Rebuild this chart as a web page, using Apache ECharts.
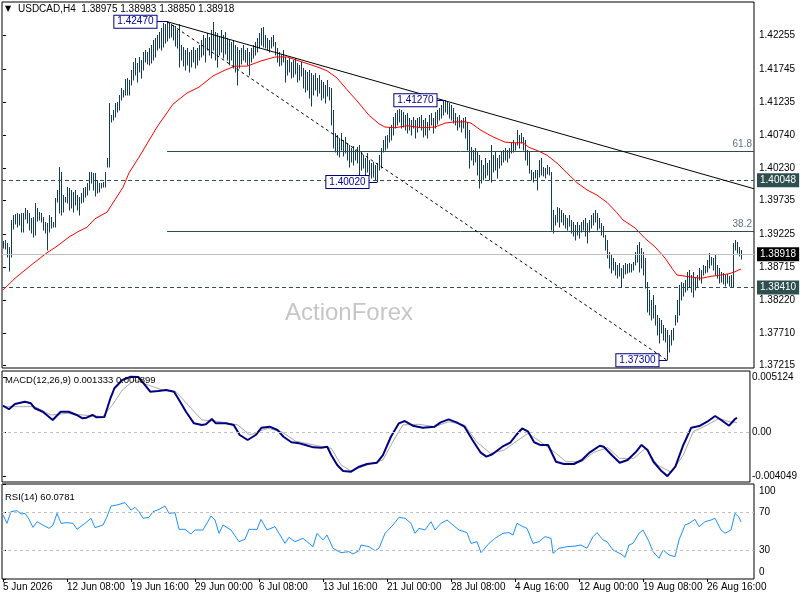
<!DOCTYPE html>
<html><head><meta charset="utf-8">
<script src="https://cdn.jsdelivr.net/npm/echarts@6/dist/echarts.min.js"></script>
<style>html,body{margin:0;padding:0;background:#fff}#c{width:800px;height:600px}</style>
</head><body><div id="c"></div>
<script>
// ---- OHLC bars (high / low per H4 bar) ----
const highs = [
1.3912,1.3913,1.3909,1.3903,1.3944,1.3952,1.3953,1.3955,1.3953,1.3955,1.3955,1.3962,1.3959,1.3955,1.3947,1.3949,
1.3970,1.3962,1.3956,1.3955,1.3949,1.3941,1.3939,1.3952,1.3949,1.3941,1.3978,1.3990,1.4025,1.4017,1.3982,1.3979,
1.3994,1.3993,1.3990,1.3987,1.3990,1.3982,1.3979,1.3985,1.3993,1.3994,1.4000,1.4017,1.4017,1.4016,1.4016,1.4005,
1.4000,1.4000,1.4002,1.4017,1.4039,1.4123,1.4104,1.4112,1.4123,1.4124,1.4135,1.4146,1.4143,1.4159,1.4161,1.4158,
1.4173,1.4185,1.4191,1.4184,1.4193,1.4188,1.4201,1.4204,1.4201,1.4207,1.4211,1.4219,1.4222,1.4227,1.4231,1.4237,
1.4245,1.4243,1.4247,1.4245,1.4243,1.4242,1.4240,1.4234,1.4243,1.4211,1.4208,1.4204,1.4207,1.4201,1.4204,1.4208,
1.4204,1.4207,1.4211,1.4219,1.4227,1.4222,1.4230,1.4224,1.4234,1.4246,1.4231,1.4230,1.4225,1.4234,1.4227,1.4231,
1.4222,1.4219,1.4216,1.4219,1.4211,1.4208,1.4204,1.4207,1.4211,1.4204,1.4207,1.4201,1.4207,1.4211,1.4216,1.4222,
1.4230,1.4237,1.4239,1.4227,1.4222,1.4219,1.4224,1.4227,1.4216,1.4207,1.4201,1.4196,1.4204,1.4193,1.4188,1.4191,
1.4185,1.4188,1.4191,1.4184,1.4181,1.4185,1.4176,1.4173,1.4170,1.4173,1.4169,1.4166,1.4169,1.4161,1.4166,1.4158,
1.4155,1.4150,1.4158,1.4147,1.4146,1.4112,1.4077,1.4074,1.4069,1.4077,1.4066,1.4071,1.4062,1.4059,1.4054,1.4057,
1.4051,1.4055,1.4059,1.4048,1.4043,1.4039,1.4046,1.4036,1.4031,1.4033,1.4028,1.4031,1.4043,1.4054,1.4066,1.4072,
1.4074,1.4086,1.4089,1.4101,1.4107,1.4112,1.4114,1.4112,1.4109,1.4104,1.4107,1.4100,1.4097,1.4101,1.4097,1.4100,
1.4101,1.4104,1.4097,1.4100,1.4094,1.4104,1.4107,1.4100,1.4109,1.4112,1.4115,1.4120,1.4127,1.4127,1.4124,1.4123,
1.4120,1.4115,1.4107,1.4101,1.4104,1.4097,1.4100,1.4101,1.4094,1.4081,1.4055,1.4051,1.4054,1.4048,1.4043,1.4036,
1.4028,1.4039,1.4031,1.4036,1.4059,1.4043,1.4048,1.4039,1.4043,1.4048,1.4051,1.4054,1.4051,1.4054,1.4063,1.4066,
1.4062,1.4081,1.4074,1.4077,1.4071,1.4066,1.4051,1.4048,1.4020,1.4017,1.4020,1.4020,1.4036,1.4039,1.4025,1.4023,
1.4028,1.4025,1.4017,1.3959,1.3952,1.3964,1.3962,1.3959,1.3955,1.3952,1.3947,1.3952,1.3944,1.3941,1.3936,1.3941,
1.3936,1.3941,1.3944,1.3947,1.3939,1.3944,1.3952,1.3955,1.3959,1.3955,1.3947,1.3939,1.3935,1.3921,1.3913,1.3895,
1.3891,1.3886,1.3880,1.3875,1.3878,1.3871,1.3875,1.3878,1.3877,1.3878,1.3877,1.3880,1.3895,1.3906,1.3910,1.3901,
1.3895,1.3886,1.3849,1.3837,1.3822,1.3829,1.3814,1.3799,1.3794,1.3791,1.3784,1.3779,1.3776,1.3768,1.3776,1.3779,
1.3799,1.3822,1.3845,1.3849,1.3848,1.3852,1.3865,1.3868,1.3860,1.3865,1.3857,1.3860,1.3871,1.3868,1.3875,1.3874,
1.3883,1.3894,1.3887,1.3886,1.3891,1.3875,1.3871,1.3865,1.3863,1.3860,1.3862,1.3858,1.3860,1.3909,1.3913,1.3910,
1.3903,1.38983];
const lows = [
1.3901,1.3900,1.3887,1.3866,1.3887,1.3930,1.3938,1.3933,1.3936,1.3926,1.3926,1.3946,1.3939,1.3929,1.3924,1.3918,
1.3921,1.3942,1.3944,1.3941,1.3929,1.3924,1.3898,1.3926,1.3932,1.3933,1.3933,1.3971,1.3955,1.3952,1.3956,1.3971,
1.3970,1.3959,1.3962,1.3956,1.3967,1.3959,1.3952,1.3970,1.3971,1.3979,1.3982,1.3990,1.4000,1.3990,1.3981,1.3985,
1.3987,1.3993,1.3994,1.3994,1.4025,1.4025,1.4094,1.4097,1.4101,1.4109,1.4112,1.4127,1.4132,1.4135,1.4135,1.4135,
1.4150,1.4158,1.4166,1.4155,1.4170,1.4161,1.4173,1.4185,1.4182,1.4181,1.4184,1.4188,1.4193,1.4204,1.4207,1.4204,
1.4208,1.4214,1.4217,1.4222,1.4224,1.4219,1.4210,1.4207,1.4178,1.4188,1.4179,1.4173,1.4181,1.4170,1.4178,1.4185,
1.4176,1.4181,1.4188,1.4193,1.4196,1.4185,1.4204,1.4196,1.4191,1.4204,1.4188,1.4178,1.4196,1.4201,1.4191,1.4198,
1.4188,1.4181,1.4188,1.4176,1.4170,1.4150,1.4176,1.4182,1.4188,1.4185,1.4181,1.4166,1.4185,1.4191,1.4196,1.4201,
1.4207,1.4211,1.4208,1.4207,1.4204,1.4201,1.4207,1.4210,1.4196,1.4185,1.4179,1.4181,1.4185,1.4155,1.4166,1.4170,
1.4161,1.4162,1.4167,1.4155,1.4158,1.4164,1.4146,1.4139,1.4143,1.4130,1.4118,1.4135,1.4143,1.4133,1.4138,1.4127,
1.4130,1.4123,1.4133,1.4127,1.4089,1.4054,1.4048,1.4043,1.4040,1.4051,1.4042,1.4046,1.4036,1.4025,1.4033,1.4028,
1.4036,1.4031,1.4013,1.4020,1.4023,1.4013,1.4017,1.4013,1.4008,1.4010,1.4005,1.4002,1.4020,1.4023,1.4048,1.4051,
1.4054,1.4063,1.4066,1.4074,1.4085,1.4089,1.4094,1.4085,1.4086,1.4081,1.4077,1.4081,1.4074,1.4085,1.4069,1.4078,
1.4086,1.4081,1.4071,1.4074,1.4069,1.4081,1.4089,1.4077,1.4085,1.4091,1.4097,1.4100,1.4104,1.4109,1.4106,1.4100,
1.4097,1.4092,1.4089,1.4081,1.4086,1.4078,1.4085,1.4069,1.4051,1.4023,1.4036,1.4028,1.4033,1.4013,1.3993,1.4000,
1.4005,1.4008,1.4013,1.4005,1.4002,1.4017,1.4020,1.4008,1.4023,1.4028,1.4033,1.4036,1.4033,1.4039,1.4046,1.4048,
1.4051,1.4059,1.4054,1.4062,1.4051,1.4036,1.4028,1.4016,1.4005,1.4002,1.4008,1.3990,1.4010,1.4013,1.4011,1.4008,
1.4014,1.4013,1.3929,1.3924,1.3936,1.3941,1.3933,1.3941,1.3936,1.3932,1.3929,1.3935,1.3924,1.3920,1.3913,1.3921,
1.3917,1.3926,1.3929,1.3920,1.3909,1.3926,1.3932,1.3936,1.3941,1.3929,1.3932,1.3921,1.3918,1.3898,1.3886,1.3871,
1.3863,1.3868,1.3860,1.3855,1.3858,1.3842,1.3855,1.3862,1.3863,1.3865,1.3865,1.3868,1.3875,1.3880,1.3865,1.3871,
1.3860,1.3840,1.3803,1.3799,1.3791,1.3794,1.3784,1.3768,1.3756,1.3771,1.3761,1.3758,1.3730,1.3742,1.3753,1.3761,
1.3784,1.3788,1.3799,1.3822,1.3828,1.3834,1.3837,1.3842,1.3834,1.3826,1.3837,1.3842,1.3852,1.3848,1.3860,1.3863,
1.3865,1.3871,1.3875,1.3868,1.3860,1.3855,1.3848,1.3849,1.3846,1.3843,1.3848,1.3843,1.3842,1.3841,1.3898,1.3894,
1.3889,1.38850];
const lastBar = {open:1.38975, high:1.38983, low:1.38850, close:1.38918};

// ---- moving average (red), [bar index, price] ----
const maLine = [[0,1.3837],[6,1.3855],[14,1.3875],[22,1.3894],[27,1.3904],[33,1.3918],[38,1.3927],[42,1.3933],[46,1.3946],
[52,1.3956],[56,1.3975],[60,1.3994],[63,1.4016],[68,1.4040],[77,1.4086],[85,1.4121],[92,1.4138],[98,1.4147],[105,1.4164],
[111,1.4173],[116,1.4179],[122,1.4179],[129,1.4187],[136,1.4193],[142,1.4193],[148,1.4187],[157,1.4178],[162,1.4172],
[167,1.4161],[172,1.4143],[177,1.4126],[183,1.4104],[188,1.4091],[191,1.4086],[196,1.4085],[202,1.4088],[209,1.4085],
[216,1.4086],[221,1.4092],[226,1.4094],[231,1.4094],[234,1.4092],[239,1.4081],[245,1.4071],[251,1.4063],[256,1.4062],
[260,1.4062],[263,1.4055],[268,1.4049],[272,1.4043],[277,1.4031],[282,1.4016],[287,1.4001],[292,1.3990],[297,1.3982],
[302,1.3971],[307,1.3955],[310,1.3944],[313,1.3938],[316,1.3932],[321,1.3916],[326,1.3903],[331,1.3886],[335,1.3868],
[337,1.3860],[344,1.3857],[349,1.3855],[354,1.3858],[359,1.3860],[363,1.3862],[366,1.3865],[368,1.3868],[369,1.3869]];

// ---- MACD(12,26,9) main and signal ----
const macdMain = [[0,0.00246],[3,0.00213],[6,0.00261],[11,0.00283],[14,0.00268],[16,0.00222],[20,0.00190],[25,0.00114],
[29,0.00190],[33,0.00190],[37,0.00160],[40,0.00129],[42,0.00135],[45,0.00160],[47,0.00139],[51,0.00142],[54,0.00314],
[56,0.00407],[60,0.00483],[64,0.005124],[68,0.00512],[70,0.00468],[74,0.00375],[78,0.00381],[82,0.00391],[86,0.00375],
[88,0.00314],[92,0.00190],[96,0.00083],[100,0.00068],[102,0.00074],[105,0.00123],[107,0.00083],[112,0.00083],[116,0.00068],
[119,-0.00025],[123,-0.00071],[127,-0.00025],[130,0.00043],[134,0.00052],[138,0.00021],[141,-0.00041],[145,-0.00092],
[149,-0.00102],[152,-0.00117],[156,-0.00139],[160,-0.00142],[163,-0.00133],[165,-0.00210],[168,-0.00302],[171,-0.00358],
[175,-0.00364],[179,-0.00318],[183,-0.00293],[188,-0.00281],[191,-0.00210],[195,-0.00041],[199,0.00083],[202,0.00104],
[206,0.00061],[211,0.00043],[217,0.00052],[220,0.00092],[224,0.00120],[228,0.00092],[232,0.00052],[236,-0.00071],
[240,-0.00185],[243,-0.00225],[246,-0.00203],[251,-0.00133],[255,-0.00096],[258,-0.00025],[261,0.00037],[264,0.00006],
[267,-0.00092],[270,-0.00117],[274,-0.00117],[278,-0.00272],[282,-0.00293],[287,-0.00293],[291,-0.00256],[295,-0.00185],
[300,-0.00124],[302,-0.00133],[306,-0.00210],[310,-0.00281],[314,-0.00256],[318,-0.00185],[321,-0.00117],[324,-0.00164],
[327,-0.00272],[331,-0.00358],[334,-0.004049],[338,-0.00318],[342,-0.00117],[346,0.00043],[350,0.00058],[354,0.00098],
[358,0.00151],[361,0.00114],[365,0.00061],[368,0.00123],[369,0.001333]];
const macdSignal = [[0,0.00237],[9,0.00237],[16,0.00237],[24,0.00160],[32,0.00175],[40,0.00160],[50,0.00145],[55,0.00252],
[60,0.00391],[66,0.00483],[73,0.00437],[80,0.00391],[87,0.00375],[93,0.00252],[100,0.00114],[109,0.00098],[118,0.00068],
[124,-0.00025],[133,0.00037],[140,0.00006],[147,-0.00081],[158,-0.00124],[165,-0.00148],[170,-0.00302],[175,-0.00358],
[183,-0.00302],[191,-0.00256],[196,-0.00086],[201,0.00068],[209,0.00074],[217,0.00052],[224,0.00098],[232,0.00068],
[238,-0.00086],[245,-0.00194],[252,-0.00164],[259,-0.00071],[264,-0.00009],[270,-0.00086],[277,-0.00179],[283,-0.00272],
[291,-0.00272],[297,-0.00185],[304,-0.00142],[310,-0.00241],[317,-0.00241],[323,-0.00148],[329,-0.00302],[336,-0.00370],
[342,-0.00210],[347,0.00006],[354,0.00068],[360,0.00129],[365,0.00098],[369,0.000899]];

// ---- RSI(14) ----
const rsiLine = [[0,67.4],[2,58.6],[4,70.9],[7,71.9],[9,68.4],[11,69.1],[13,62.8],[15,54.4],[17,60.3],[20,56.8],[23,53.3],
[25,56.8],[27,69.1],[29,58.6],[32,59.3],[35,58.6],[37,52.3],[41,58.6],[44,63.9],[46,54],[50,56.8],[52,65.6],[54,76.8],
[57,77.9],[61,80.4],[64,72.6],[66,75.4],[68,70.9],[70,63.9],[73,65],[75,70.9],[78,73.3],[81,76.8],[83,69.1],[86,69.8],
[88,52.3],[91,52.3],[94,47.4],[96,51.6],[100,51.6],[104,66.3],[106,62.1],[108,48.1],[110,56.8],[114,51.6],[118,39.3],
[121,41.8],[123,52.3],[127,52.3],[129,62.8],[132,51.6],[136,55.1],[138,48.1],[141,37.5],[143,43.9],[146,39.3],[150,42.8],
[152,39.3],[155,34],[157,48.1],[160,41.1],[162,46.3],[165,32.3],[169,27.7],[173,28.8],[175,26.3],[178,29.8],[179,35.8],
[183,34],[186,29.8],[188,32.3],[191,48.1],[195,56.8],[198,65],[201,63.9],[204,58.6],[206,48.1],[208,53.3],[211,51.6],
[214,60.3],[216,51.6],[219,58.6],[222,62.1],[225,56.8],[228,51.6],[232,48.8],[234,37.5],[237,39.3],[239,27.7],[243,37.5],
[246,42.8],[250,48.1],[253,48.8],[255,46.3],[257,58.6],[260,55.1],[262,53.3],[265,37.5],[268,39.3],[271,44.6],[274,42.8],
[275,27],[278,32.3],[282,34],[286,34.7],[289,35.8],[292,32.3],[295,44.6],[297,48.8],[300,41.1],[302,39.3],[305,30.5],
[309,26.3],[311,22.8],[313,35.8],[315,37.5],[318,48.1],[320,51.6],[323,39.3],[325,28.8],[328,21.8],[330,30.5],[333,25.3],
[336,23.5],[338,41.1],[341,56.8],[343,58.6],[346,62.8],[348,55.1],[351,60.3],[354,62.1],[356,63.9],[359,51.6],[361,48.1],
[364,51.6],[366,69.1],[368,65],[369,60.0781]];

// ---- ticks / labels ----
const priceTicks = [1.42255,1.41745,1.41235,1.40740,1.40230,1.39735,1.39225,1.38715,1.38220,1.37710,1.37215];
const macdTicks = [0.005124,0,-0.004049];
const rsiTicks = [0,30,70,100];
const rsiLevels = [30,70];
const timeTickIdx = [0,32,64,96,128,160,192,224,256,288,320,352];
const timeTickLabels = ['5 Jun 2026','12 Jun 08:00','19 Jun 16:00','29 Jun 00:00','6 Jul 08:00','13 Jul 16:00',
  '21 Jul 00:00','28 Jul 08:00','4 Aug 16:00','12 Aug 00:00','19 Aug 08:00','26 Aug 16:00'];

// ---- drawing objects ----
const swingHigh = [82,1.42470], swingLow = [332,1.37300];
const trendAnchor = [220,1.41270];
const swings = [[82,1.42470],[221,1.41270],[187,1.40020],[332,1.37300]];
const fibLevels = [61.8,38.2];
const resistance = 1.40048, support = 1.38410;

const FONT = '"Liberation Sans", Arial, sans-serif';
const BAR = '#123d55', SLATE = '#2f4f4f';
const XMIN = -0.5, XMAX = 375.5;

const bars = highs.map((h,i)=>[i, lows[i], h]);
const slope = (trendAnchor[1]-swingHigh[1])/(trendAnchor[0]-swingHigh[0]);
const trendEnd = swingHigh[1] + slope*(XMAX-swingHigh[0]);
const fibPrice = f => swingLow[1] + f/100*(swingHigh[1]-swingLow[1]);
const swingGap = [10,8,8,8];

const hLabel = (txt,bg)=>({show:true, position:'end', distance:3, formatter:txt, backgroundColor:bg, color:'#fff',
  padding:[2,3,1,3], fontSize:10, lineHeight:11, fontFamily:FONT});
const hLine = (v, style, label) => [{coord:[XMIN,v], lineStyle:style, label:label}, {coord:[XMAX,v]}];

const mlData = [
  hLine(resistance, {color:SLATE,type:[4,3],width:1}, hLabel(resistance.toFixed(5),SLATE)),
  hLine(support, {color:SLATE,type:[4,3],width:1}, hLabel(support.toFixed(5),SLATE)),
  hLine(lastBar.close, {color:'#c0c0c0',type:'solid',width:1}, hLabel(lastBar.close.toFixed(5),'#000')),
  ...fibLevels.map(f=>[
    {coord:[swingHigh[0],fibPrice(f)], lineStyle:{color:SLATE,type:'solid',width:1},
     label:{show:true, position:'insideEndTop', distance:2, formatter:f.toFixed(1), color:'#5b7385', fontSize:10, fontFamily:FONT}},
    {coord:[XMAX,fibPrice(f)]}]),
  [{coord:swingHigh, lineStyle:{color:'#000',type:'solid',width:1}},{coord:[XMAX,trendEnd]}],
  [{coord:swingHigh, lineStyle:{color:'#000',type:[3,3],width:1}},{coord:swingLow}],
  ...swings.map((s,k)=>[{coord:[s[0]-swingGap[k]/2,s[1]], lineStyle:{color:'#000080',type:'solid',width:1}},{coord:s}])
];

const chart = echarts.init(document.getElementById('c'));
const xAx = g => ({type:'value', gridIndex:g, min:XMIN, max:XMAX, axisLine:{show:false}, splitLine:{show:false},
  axisTick:{show:g===2, customValues:timeTickIdx, length:3, lineStyle:{color:'#000'}},
  axisLabel:{show:g===2, customValues:timeTickIdx, formatter:v=>timeTickLabels[timeTickIdx.indexOf(v)]||'',
    align:'left', fontSize:10, color:'#000', margin:3, fontFamily:FONT}});
const yBase = {type:'value', position:'right', axisLine:{show:false}, splitLine:{show:false}};

chart.setOption({
  animation:false,
  backgroundColor:'#fff',
  textStyle:{fontFamily:FONT},
  grid:[
    {left:2, top:2, width:752, height:366, show:true, borderColor:'#000', borderWidth:1, backgroundColor:'#fff'},
    {left:2, top:371, width:752, height:111, show:true, borderColor:'#000', borderWidth:1, backgroundColor:'#fff'},
    {left:2, top:484, width:752, height:95, show:true, borderColor:'#000', borderWidth:1, backgroundColor:'#fff'}
  ],
  xAxis:[xAx(0),xAx(1),xAx(2)],
  yAxis:[
    Object.assign({}, yBase, {gridIndex:0, min:1.3718, max:1.4277,
      axisTick:{show:true, customValues:priceTicks, length:3, lineStyle:{color:'#000'}},
      axisLabel:{customValues:priceTicks, formatter:v=>v.toFixed(5), fontSize:10, color:'#000', margin:5, fontFamily:FONT}}),
    Object.assign({}, yBase, {gridIndex:1, min:-0.004592, max:0.005664,
      axisTick:{show:true, customValues:macdTicks, length:3, lineStyle:{color:'#000'}},
      axisLabel:{customValues:macdTicks, formatter:v=>v===0?'0.00':v.toFixed(6), fontSize:10, color:'#000', margin:2, fontFamily:FONT}}),
    Object.assign({}, yBase, {gridIndex:2, min:0, max:100,
      axisTick:{show:true, customValues:rsiTicks, length:3, lineStyle:{color:'#000'}},
      axisLabel:{customValues:rsiTicks, formatter:v=>v===100?'{t|100}':(v===0?'{b|0}':String(v)), fontSize:10, color:'#000', margin:5, fontFamily:FONT,
        rich:{t:{padding:[14,0,0,0],fontSize:10,fontFamily:FONT}, b:{padding:[0,0,14,0],fontSize:10,fontFamily:FONT}}}})
  ],
  graphic:[
    {type:'text', left:5, top:5, z:10, style:{text:'▼', fontSize:8, fontFamily:'DejaVu Sans', fill:'#000'}},
    {type:'text', left:18, top:4, z:10, style:{text:'USDCAD,H4  '+[lastBar.open,lastBar.high,lastBar.low,lastBar.close].map(v=>v.toFixed(5)).join(' '),
      fontSize:10, fontFamily:FONT, fill:'#000'}},
    {type:'text', left:5, top:375, z:10, style:{text:'MACD(12,26,9) '+macdMain[macdMain.length-1][1].toFixed(6)+' '+macdSignal[macdSignal.length-1][1].toFixed(6),
      fontSize:9.5, fontFamily:FONT, fill:'#000'}},
    {type:'text', left:5, top:492, z:10, style:{text:'RSI(14) '+rsiLine[rsiLine.length-1][1].toFixed(4), fontSize:9.5, fontFamily:FONT, fill:'#000'}},
    {type:'text', x:349, y:313, z:1, style:{text:'ActionForex', fontSize:24, fontFamily:FONT, fill:'#c6c6c6', align:'center', verticalAlign:'middle'}}
  ],
  series:[
    {type:'custom', name:'USDCAD', xAxisIndex:0, yAxisIndex:0, data:bars, encode:{x:0,y:[1,2]}, z:2,
      renderItem:(params,api)=>{
        const x = api.value(0);
        const a = api.coord([x, api.value(1)]);
        const b = api.coord([x, api.value(2)]);
        const px = Math.round(a[0]) + 0.5;
        return {type:'line', shape:{x1:px, y1:Math.round(a[1])+0.5, x2:px, y2:Math.round(b[1])}, style:{stroke:BAR, lineWidth:1}};
      }},
    {type:'line', name:'MA', xAxisIndex:0, yAxisIndex:0, data:maLine, symbol:'none', z:3,
      lineStyle:{color:'#ff0000', width:1},
      markLine:{silent:true, precision:6, symbol:['none','none'], label:{show:false}, data:mlData, animation:false},
      markPoint:{silent:true, symbol:'rect', symbolSize:1, itemStyle:{color:'rgba(0,0,0,0)'},
        data:swings.map((s,k)=>({coord:s, value:s[1].toFixed(5),
          label:{show:true, position:'left', distance:swingGap[k], formatter:s[1].toFixed(5), color:'#0000a0',
            backgroundColor:'#fff', borderColor:'#000080', borderWidth:1, padding:[1,3,0,3], fontSize:10, lineHeight:11, fontFamily:FONT}}))}},
    {type:'line', name:'MACD', xAxisIndex:1, yAxisIndex:1, data:macdMain, symbol:'none', z:3,
      lineStyle:{color:'#000080', width:2},
      markLine:{silent:true, precision:6, symbol:['none','none'], label:{show:false}, lineStyle:{color:'#c0c0c0', type:[3,3], width:1}, data:[{yAxis:0}]}},
    {type:'line', name:'Signal', xAxisIndex:1, yAxisIndex:1, data:macdSignal, symbol:'none', z:2,
      lineStyle:{color:'#a8a8a8', width:1}},
    {type:'line', name:'RSI', xAxisIndex:2, yAxisIndex:2, data:rsiLine, symbol:'none', z:3,
      lineStyle:{color:'#1e90ff', width:1},
      markLine:{silent:true, symbol:['none','none'], label:{show:false}, lineStyle:{color:'#c0c0c0', type:[3,3], width:1},
        data:rsiLevels.map(v=>({yAxis:v}))}}
  ]
});
</script></body></html>
